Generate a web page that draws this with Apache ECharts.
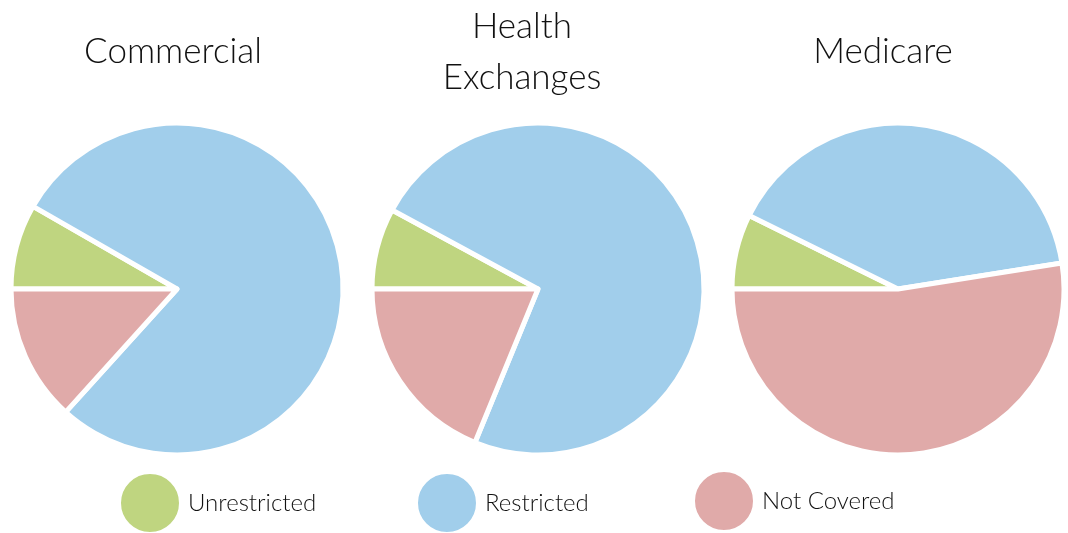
<!DOCTYPE html>
<html>
<head>
<meta charset="utf-8">
<script src="https://cdn.jsdelivr.net/npm/echarts@6/dist/echarts.min.js"></script>
<style>html,body{margin:0;padding:0;background:#fff}#c{width:1068px;height:533px}</style>
</head>
<body>
<div id="c"></div>
<script>
const categories = ['Unrestricted', 'Restricted', 'Not Covered'];
const panelTitles = ['Commercial', 'Health\nExchanges', 'Medicare'];
const commercialValues = [8.3, 78.4, 13.3];
const exchangeValues = [7.9, 73.3, 18.8];
const medicareValues = [7.3, 40.2, 52.5];
const colors = ['#BFD580', '#A1CEEB', '#E0AAA9'];

const allValues = [commercialValues, exchangeValues, medicareValues];
const centers = [[177, 289], [538, 289], [898, 289]];
const titlePos = [[173, 52], [522, 52], [883, 52]];
const font = 'Lato, "Noto Sans", sans-serif';

const chart = echarts.init(document.getElementById('c'), null, {renderer: 'canvas'});

const series = allValues.map((vals, i) => ({
  type: 'pie',
  center: centers[i],
  radius: [0, 166],
  startAngle: 180,
  clockwise: true,
  label: {show: false},
  labelLine: {show: false},
  emphasis: {disabled: true},
  silent: true,
  animation: false,
  itemStyle: {borderColor: '#fff', borderWidth: 5},
  data: categories.map((c, j) => ({name: c, value: vals[j], itemStyle: {color: colors[j]}}))
}));

const titles = panelTitles.map((t, i) => ({
  text: t,
  left: titlePos[i][0],
  top: titlePos[i][1],
  padding: 0,
  textAlign: 'center',
  textVerticalAlign: 'middle',
  textStyle: {fontFamily: font, fontSize: 35, fontWeight: 300, color: '#111', lineHeight: 51}
}));

const legendLefts = [119, 416, 693];
const legendTops = [472, 472, 470];
const legends = categories.map((c, i) => ({
  data: [c],
  left: legendLefts[i],
  top: legendTops[i],
  padding: 0,
  icon: 'circle',
  itemWidth: 60,
  itemHeight: 60,
  itemGap: 0,
  selectedMode: false,
  textStyle: {fontFamily: font, fontSize: 24, fontWeight: 300, color: '#111', padding: [0, 0, 0, 3]}
}));

chart.setOption({
  animation: false,
  color: colors,
  title: titles,
  legend: legends,
  series: series
});
</script>
</body>
</html>
